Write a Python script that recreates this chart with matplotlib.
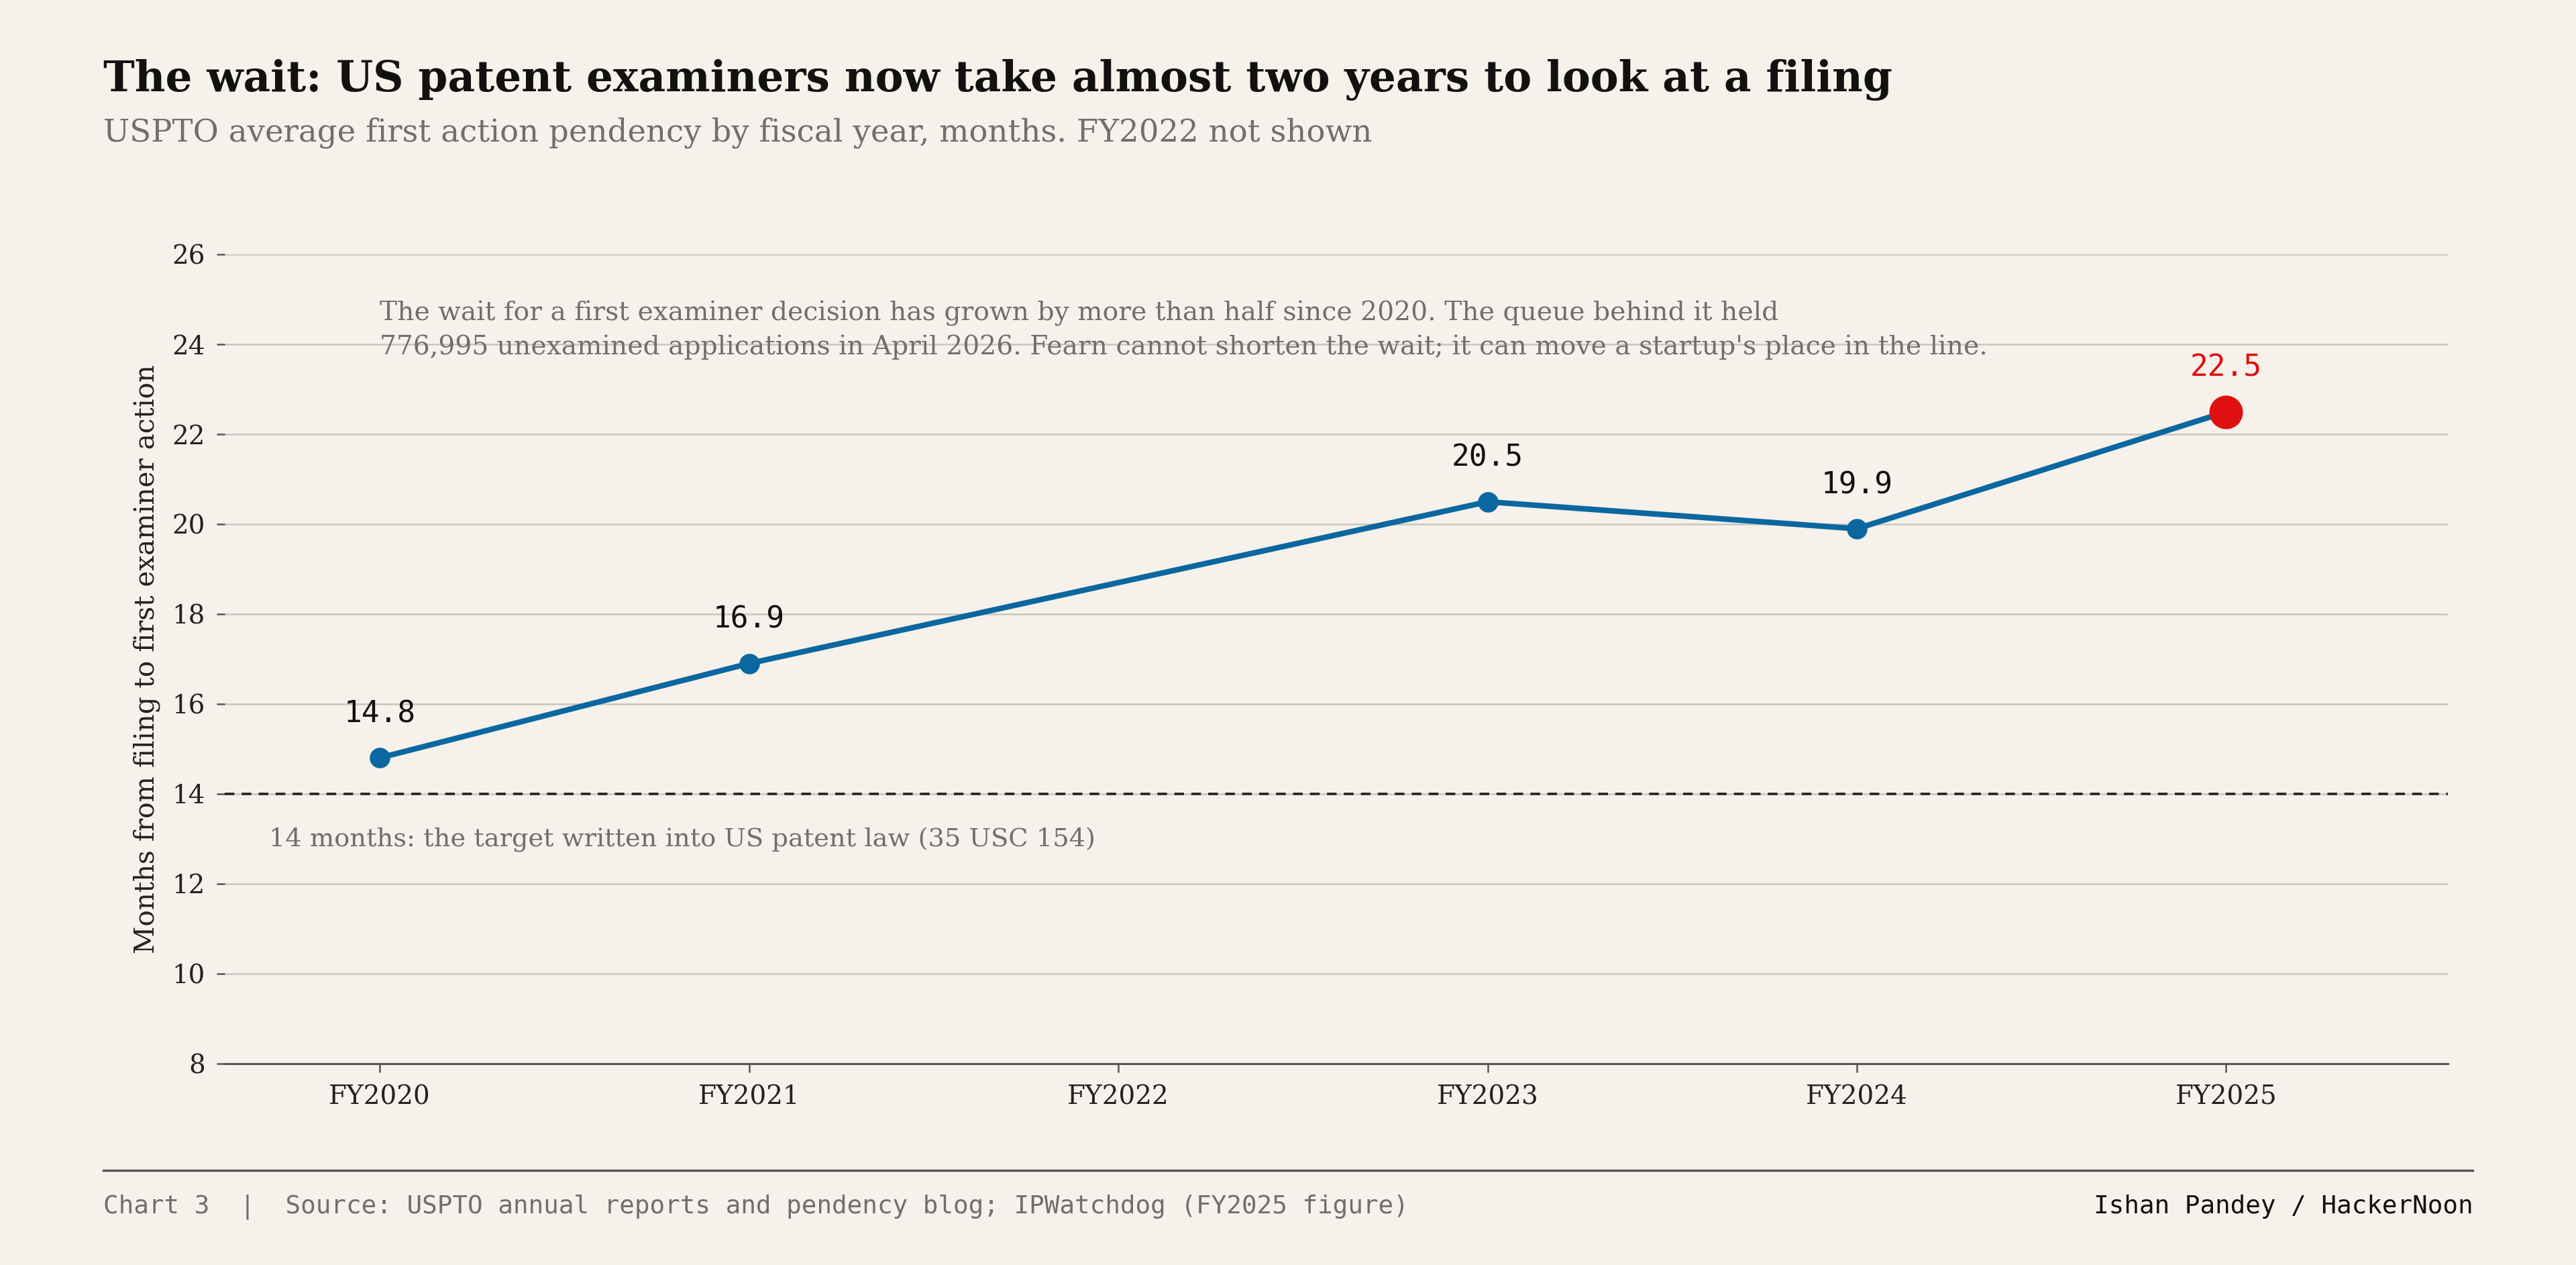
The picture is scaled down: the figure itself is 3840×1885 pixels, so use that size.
import matplotlib
matplotlib.use("Agg")
import matplotlib.pyplot as plt

# --- data ---
years = [2020, 2021, 2023, 2024, 2025]
months = [14.8, 16.9, 20.5, 19.9, 22.5]
tick_years = [2020, 2021, 2022, 2023, 2024, 2025]
tick_labels = ["FY2020", "FY2021", "FY2022", "FY2023", "FY2024", "FY2025"]
y_ticks = [8, 10, 12, 14, 16, 18, 20, 22, 24, 26]
target = 14

BG = "#f6f1ea"
BLUE = "#0b67a0"
RED = "#e01010"
GRID = "#c9c5bf"
GREY_TXT = "#6f6f6f"
SERIF = "DejaVu Serif"
MONO = "DejaVu Sans Mono"

fig = plt.figure(figsize=(38.4, 18.85), dpi=100, facecolor=BG)
ax = fig.add_axes([0.0872, 0.1594, 0.8630, 0.6393], facecolor=BG)

ax.set_xlim(2019.58, 2025.6)
ax.set_ylim(8, 26)

# gridlines
ax.set_yticks(y_ticks)
ax.yaxis.grid(True, color=GRID, linewidth=1.8)
ax.set_axisbelow(True)

# target line
ax.axhline(target, color="#222222", linewidth=2.6, linestyle=(0, (4, 3)), zorder=2)
ax.text(2019.7, 12.98, "14 months: the target written into US patent law (35 USC 154)",
        fontsize=27.6, family=SERIF, color=GREY_TXT, va="center", ha="left")

# series
ax.plot(years, months, color=BLUE, linewidth=6, zorder=3)
ax.plot(years[:-1], months[:-1], "o", color=BLUE, markersize=21, zorder=4)
ax.plot(years[-1:], months[-1:], "o", color=RED, markersize=35, zorder=5)

for i, (x, y) in enumerate(zip(years, months)):
    c = RED if i == len(years) - 1 else "#111111"
    ax.annotate(f"{y}", (x, y), xytext=(0, 47), textcoords="offset points",
                ha="center", va="center", fontsize=32, family=MONO, color=c)

# annotation
ax.text(2020, 24.32,
        "The wait for a first examiner decision has grown by more than half since 2020. The queue behind it held\n"
        "776,995 unexamined applications in April 2026. Fearn cannot shorten the wait; it can move a startup's place in the line.",
        fontsize=28.3, family=SERIF, color=GREY_TXT, va="center", ha="left", linespacing=1.45)

# axes styling
for s in ["top", "right", "left"]:
    ax.spines[s].set_visible(False)
ax.spines["bottom"].set_color("#555555")
ax.spines["bottom"].set_linewidth(2.2)

ax.set_xticks(tick_years)
ax.set_xticklabels(tick_labels)
ax.tick_params(axis="x", length=9, width=1.8, color="#555555", pad=14,
               labelsize=28, labelcolor="#222222")
ax.tick_params(axis="y", length=9, width=1.8, color="#555555", pad=12,
               labelsize=28, labelcolor="#222222")
for lab in ax.get_xticklabels() + ax.get_yticklabels():
    lab.set_family(SERIF)

ax.set_ylabel("Months from filing to first examiner action", fontsize=29.2,
              family=SERIF, color="#222222", labelpad=12)

# title block
fig.text(0.0401, 0.937, "The wait: US patent examiners now take almost two years to look at a filing",
         fontsize=45.3, family=SERIF, weight="bold", color="#111111", va="center", ha="left")
fig.text(0.0401, 0.895, "USPTO average first action pendency by fiscal year, months. FY2022 not shown",
         fontsize=33.6, family=SERIF, color=GREY_TXT, va="center", ha="left")

# footer
fig.add_artist(plt.Line2D([0.0401, 0.960], [0.0748, 0.0748], color="#555555",
                          linewidth=2.4, transform=fig.transFigure))
fig.text(0.0401, 0.046,
         "Chart 3  |  Source: USPTO annual reports and pendency blog; IPWatchdog (FY2025 figure)",
         fontsize=27.1, family=MONO, color=GREY_TXT, va="center", ha="left")
fig.text(0.960, 0.046, "Ishan Pandey / HackerNoon",
         fontsize=27.1, family=MONO, color="#111111", va="center", ha="right")

fig.savefig("out.png", dpi=100, facecolor=BG)
